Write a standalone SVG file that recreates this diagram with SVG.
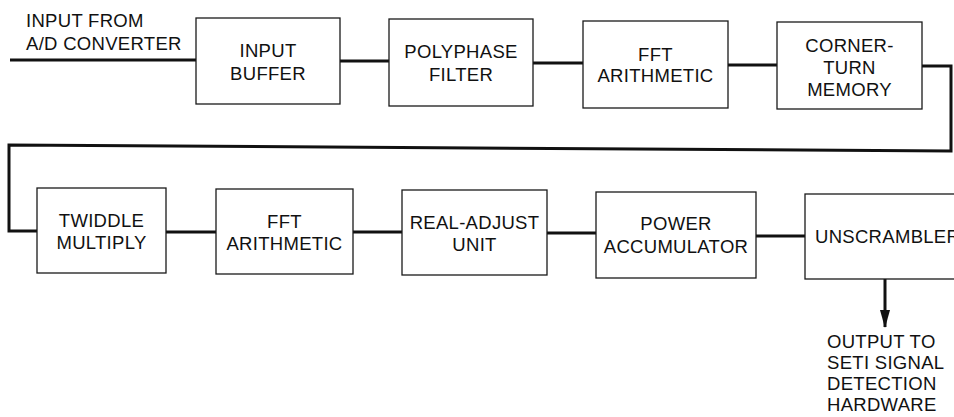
<svg xmlns="http://www.w3.org/2000/svg" width="954" height="417" viewBox="0 0 954 417">
<style>
.box{fill:#fff;stroke:#1a1a1a;stroke-width:1.3}
.wire{fill:none;stroke:#111;stroke-width:3}
text{font-family:"Liberation Sans",Arial,sans-serif;font-size:18.5px;letter-spacing:0.3px;fill:#111}
.c{text-anchor:middle}
</style>
<defs>
<marker id="ah" markerUnits="userSpaceOnUse" markerWidth="19" markerHeight="12" refX="17" refY="6" orient="auto">
<path d="M0,1 L18,6 L0,11 Z" fill="#111"/>
</marker>
</defs>
<rect width="954" height="417" fill="#fff"/>
<g id="connectors">
<path class="wire" d="M10,60 H196"/>
<path class="wire" d="M340,61 H389"/>
<path class="wire" d="M533,63 H583"/>
<path class="wire" d="M728,65 H777"/>
<path class="wire" d="M922,66 H951 V151 L9,145 V231 H37"/>
<path class="wire" d="M166,232 H216"/>
<path class="wire" d="M353,232 H402"/>
<path class="wire" d="M547,233 H596"/>
<path class="wire" d="M756,236 H805"/>
<path class="wire" d="M885,279 V327" marker-end="url(#ah)"/>
</g>
<g id="input-label">
<text x="26" y="27">INPUT FROM</text>
<text x="26" y="50">A/D CONVERTER</text>
</g>
<g id="input-buffer">
<rect class="box" x="196" y="18" width="144" height="86"/>
<text class="c" x="268" y="57">INPUT</text>
<text class="c" x="268" y="80">BUFFER</text>
</g>
<g id="polyphase-filter">
<rect class="box" x="389" y="19" width="144" height="87"/>
<text class="c" x="461" y="58">POLYPHASE</text>
<text class="c" x="461" y="81">FILTER</text>
</g>
<g id="fft-arithmetic-1">
<rect class="box" x="583" y="21" width="145" height="87"/>
<text class="c" x="655.5" y="61">FFT</text>
<text class="c" x="655.5" y="82">ARITHMETIC</text>
</g>
<g id="corner-turn-memory">
<rect class="box" x="777" y="22" width="145" height="87"/>
<text class="c" x="849.5" y="52">CORNER-</text>
<text class="c" x="849.5" y="74">TURN</text>
<text class="c" x="849.5" y="96">MEMORY</text>
</g>
<g id="twiddle-multiply">
<rect class="box" x="37" y="188" width="129" height="85"/>
<text class="c" x="101.5" y="227">TWIDDLE</text>
<text class="c" x="101.5" y="249">MULTIPLY</text>
</g>
<g id="fft-arithmetic-2">
<rect class="box" x="216" y="189" width="137" height="85"/>
<text class="c" x="284.5" y="228">FFT</text>
<text class="c" x="284.5" y="250">ARITHMETIC</text>
</g>
<g id="real-adjust-unit">
<rect class="box" x="402" y="190" width="145" height="85"/>
<text class="c" x="474.5" y="229">REAL-ADJUST</text>
<text class="c" x="474.5" y="251">UNIT</text>
</g>
<g id="power-accumulator">
<rect class="box" x="596" y="192" width="160" height="86"/>
<text class="c" x="676" y="230">POWER</text>
<text class="c" x="676" y="253">ACCUMULATOR</text>
</g>
<g id="unscrambler">
<rect class="box" x="805" y="194" width="160" height="85"/>
<text x="815" y="243">UNSCRAMBLER</text>
</g>
<g id="output-label">
<text x="827" y="348">OUTPUT TO</text>
<text x="827" y="369">SETI SIGNAL</text>
<text x="827" y="390">DETECTION</text>
<text x="827" y="411">HARDWARE</text>
</g>
</svg>
